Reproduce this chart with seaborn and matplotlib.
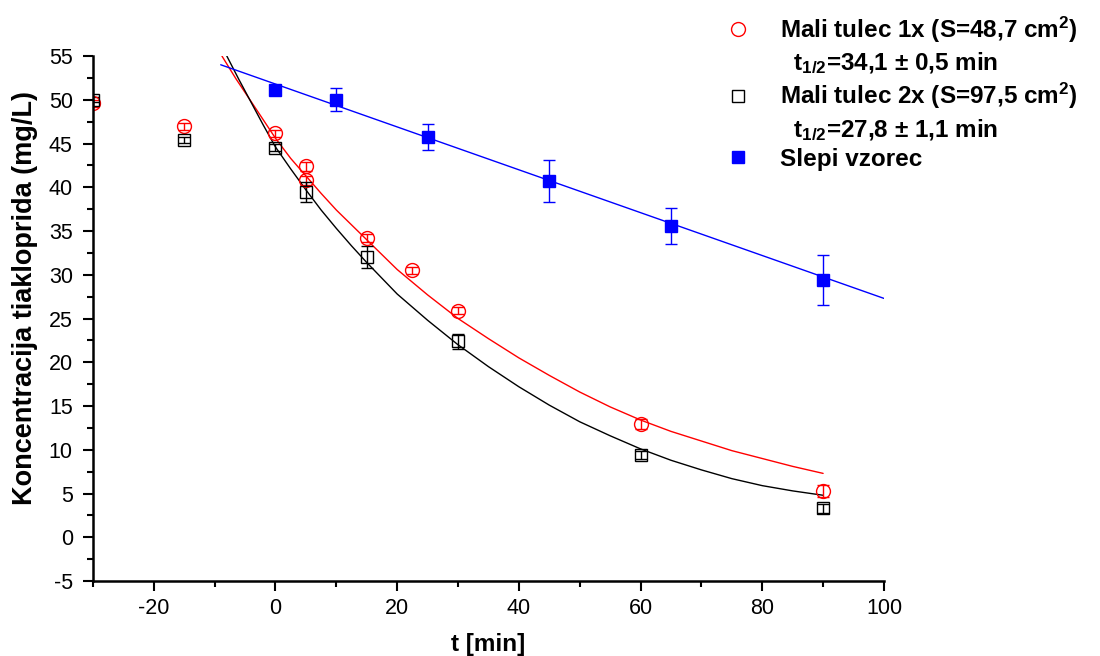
import matplotlib
matplotlib.use('Agg')
import matplotlib.pyplot as plt
from matplotlib.lines import Line2D
from matplotlib.ticker import MultipleLocator
import seaborn as sns
import pandas as pd

# measured points
t_mali1 = [-30, -15, 0, 5, 5, 15, 22.5, 30, 60, 90]
c_mali1 = [49.6, 47.0, 46.2, 42.4, 40.8, 34.2, 30.5, 25.9, 12.9, 5.3]
e_mali1 = [0.4, 0.4, 0.4, 0.5, 0.5, 0.5, 0.4, 0.4, 0.57, 0.67]

t_mali2 = [-30, -15, 0, 5, 15, 30, 60, 90]
c_mali2 = [50.0, 45.4, 44.5, 39.5, 32.0, 22.4, 9.4, 3.3]
e_mali2 = [0.3, 0.3, 0.4, 1.14, 1.28, 0.86, 0.5, 0.5]

t_slepi = [0, 10, 25, 45, 65, 90]
c_slepi = [51.1, 50.0, 45.7, 40.7, 35.6, 29.4]
e_slepi = [0.0, 1.33, 1.49, 2.4, 2.06, 2.9]

# fitted curves
t_fit1 = [-8.8, -6.5, -4.2, -2, 0, 2.5, 5, 7.5, 10, 12.5, 15, 20, 25, 30, 35, 40, 45,
          50, 55, 60, 65, 70, 75, 80, 85, 90]
c_fit1 = [55.0, 52.4, 50.0, 47.7, 45.6, 43.3, 41.3, 39.3, 37.4, 35.7, 34.0, 30.6, 27.7,
          25.0, 22.7, 20.5, 18.5, 16.6, 14.9, 13.4, 12.1, 11.0, 9.9, 9.0, 8.1, 7.3]
t_fit2 = [-8.0, -6, -4.0, -2, 0, 2.5, 5, 7.5, 10, 12.5, 15, 20, 25, 30, 35, 40, 45,
          50, 55, 60, 65, 70, 75, 80, 85, 90]
c_fit2 = [55.0, 52.3, 49.7, 47.1, 44.6, 42.1, 39.7, 37.4, 35.3, 33.3, 31.4, 27.8, 24.8,
          22.0, 19.5, 17.2, 15.1, 13.2, 11.6, 10.1, 8.8, 7.7, 6.7, 5.9, 5.3, 4.8]
t_fit3 = [-9, 100]
c_fit3 = [54.0, 27.3]

labels = ['Mali tulec 1x (S=48,7 cm$^2$)', '  t$_{1/2}$=34,1 ± 0,5 min',
          'Mali tulec 2x (S=97,5 cm$^2$)', '  t$_{1/2}$=27,8 ± 1,1 min',
          'Slepi vzorec']

sns.set_style('ticks')
plt.rcParams['font.family'] = ['Liberation Sans', 'DejaVu Sans']
plt.rcParams['mathtext.fontset'] = 'custom'
plt.rcParams['mathtext.rm'] = 'Liberation Sans:bold'
plt.rcParams['mathtext.it'] = 'Liberation Sans:bold'
plt.rcParams['mathtext.bf'] = 'Liberation Sans:bold'
plt.rcParams['axes.unicode_minus'] = False
plt.rcParams['text.color'] = 'black'
plt.rcParams['axes.labelcolor'] = 'black'
plt.rcParams['xtick.color'] = 'black'
plt.rcParams['ytick.color'] = 'black'

fig = plt.figure(figsize=(11, 6.56), dpi=100)
ax = fig.add_axes([0.0845, 0.1143, 0.7191, 0.8003])

fits = pd.DataFrame({'t': t_fit1 + t_fit2 + t_fit3,
                     'c': c_fit1 + c_fit2 + c_fit3,
                     's': ['1x'] * len(t_fit1) + ['2x'] * len(t_fit2) + ['slepi'] * len(t_fit3)})
sns.lineplot(data=fits, x='t', y='c', hue='s', palette={'1x': 'red', '2x': 'black', 'slepi': 'blue'},
             estimator=None, sort=False, lw=1, legend=False, ax=ax)

ax.errorbar(t_mali1, c_mali1, yerr=e_mali1, fmt='o', ms=10, mfc='none', mec='red', mew=1,
            ecolor='red', elinewidth=1, capsize=4.5, capthick=1)
ax.errorbar(t_mali2, c_mali2, yerr=e_mali2, fmt='s', ms=9, mfc='none', mec='black', mew=1,
            ecolor='black', elinewidth=1, capsize=4.5, capthick=1)
ax.errorbar(t_slepi, c_slepi, yerr=e_slepi, fmt='s', ms=8.5, mfc='blue', mec='blue', mew=1,
            ecolor='blue', elinewidth=1, capsize=4.5, capthick=1)

ax.set_xlim(-30, 100)
ax.set_ylim(-5, 55)
ax.xaxis.set_major_locator(MultipleLocator(20))
ax.xaxis.set_minor_locator(MultipleLocator(10))
ax.yaxis.set_major_locator(MultipleLocator(5))
ax.yaxis.set_minor_locator(MultipleLocator(2.5))
ax.tick_params(which='major', length=7.5, width=1.5, labelsize=15.5, direction='out', color='black')
ax.tick_params(axis='y', which='major', pad=7)
ax.tick_params(axis='x', which='major', pad=5)
ax.tick_params(which='minor', length=4, width=1.5, direction='out', color='black')
for side in ['left', 'bottom']:
    ax.spines[side].set_linewidth(1.8)
    ax.spines[side].set_color('black')
sns.despine(ax=ax)

ax.set_xlabel('t [min]', fontsize=17.5, fontweight='bold', labelpad=10)
ax.set_ylabel('Koncentracija tiakloprida (mg/L)', fontsize=19.5, fontweight='bold')
ax.yaxis.set_label_coords(-0.07, 0.54)

blank = Line2D([], [], linestyle='none', marker='none')
handles = [Line2D([], [], linestyle='none', marker='o', ms=10, mfc='none', mec='red'), blank,
           Line2D([], [], linestyle='none', marker='s', ms=9, mfc='none', mec='black'), blank,
           Line2D([], [], linestyle='none', marker='s', ms=8.5, mfc='blue', mec='blue')]
fig.legend(handles, labels, loc='upper left', bbox_to_anchor=(0.641, 1.0), frameon=False,
           prop={'size': 17.5, 'weight': 'bold'}, handletextpad=1.0, labelspacing=0.22,
           handlelength=1.5, borderaxespad=0.2)

plt.savefig('out.png', dpi=100)
plt.close('all')
